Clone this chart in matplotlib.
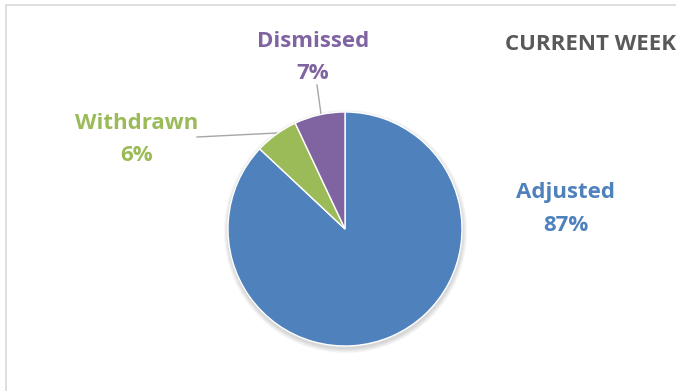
import matplotlib
matplotlib.use("Agg")
import matplotlib.pyplot as plt
from matplotlib.patches import Circle, Rectangle

categories = ["Adjusted", "Withdrawn", "Dismissed"]
values = [87, 6, 7]
colors = ["#4F81BD", "#9BBB59", "#8064A2"]
title = "CURRENT WEEK"

W, H = 676, 391
fig = plt.figure(figsize=(W / 100, H / 100), dpi=100)
ax = fig.add_axes([0, 0, 1, 1])

# frame
ax.add_patch(Rectangle((6, -20), W + 50, H - 5 + 20, facecolor="none",
                       edgecolor="#D9D9D9", linewidth=1.2, zorder=0.2, clip_on=False))

cx, cy, r = 345, H - 229, 117

# soft shadow
for i in range(8):
    ax.add_patch(Circle((cx + 0.5, cy - 2.5), r + 0.6 * (8 - i), facecolor="black",
                        alpha=0.018, edgecolor="none", zorder=1))

ax.pie(values, colors=colors, startangle=90, counterclock=False, center=(cx, cy), radius=r,
       wedgeprops=dict(edgecolor="white", linewidth=1, zorder=2), frame=True)
ax.set_xlim(0, W)
ax.set_ylim(0, H)
ax.set_aspect("equal")
ax.axis("off")

font = dict(family=["Open Sans", "DejaVu Sans"], fontweight="bold", fontsize=16)
label_pos = {"Adjusted": (566, 209), "Withdrawn": (137, 139.5), "Dismissed": (313, 57.5)}
for cat, val, col in zip(categories, values, colors):
    x, y = label_pos[cat]
    ax.text(x, H - y, f"{cat}\n{val}%", color=col, ha="center", va="center",
            linespacing=1.7, **font)

# leader lines
ax.plot([197, 277], [H - 137, H - 133], color="#A6A6A6", lw=1, zorder=0.5)
ax.plot([317, 321], [H - 85, H - 114], color="#A6A6A6", lw=1, zorder=0.5)

ax.text(676, H - 45, title, color="#595959", ha="right", va="center",
        family=["Open Sans", "DejaVu Sans"], fontweight="bold", fontsize=16)

fig.savefig("out.png", dpi=100)
